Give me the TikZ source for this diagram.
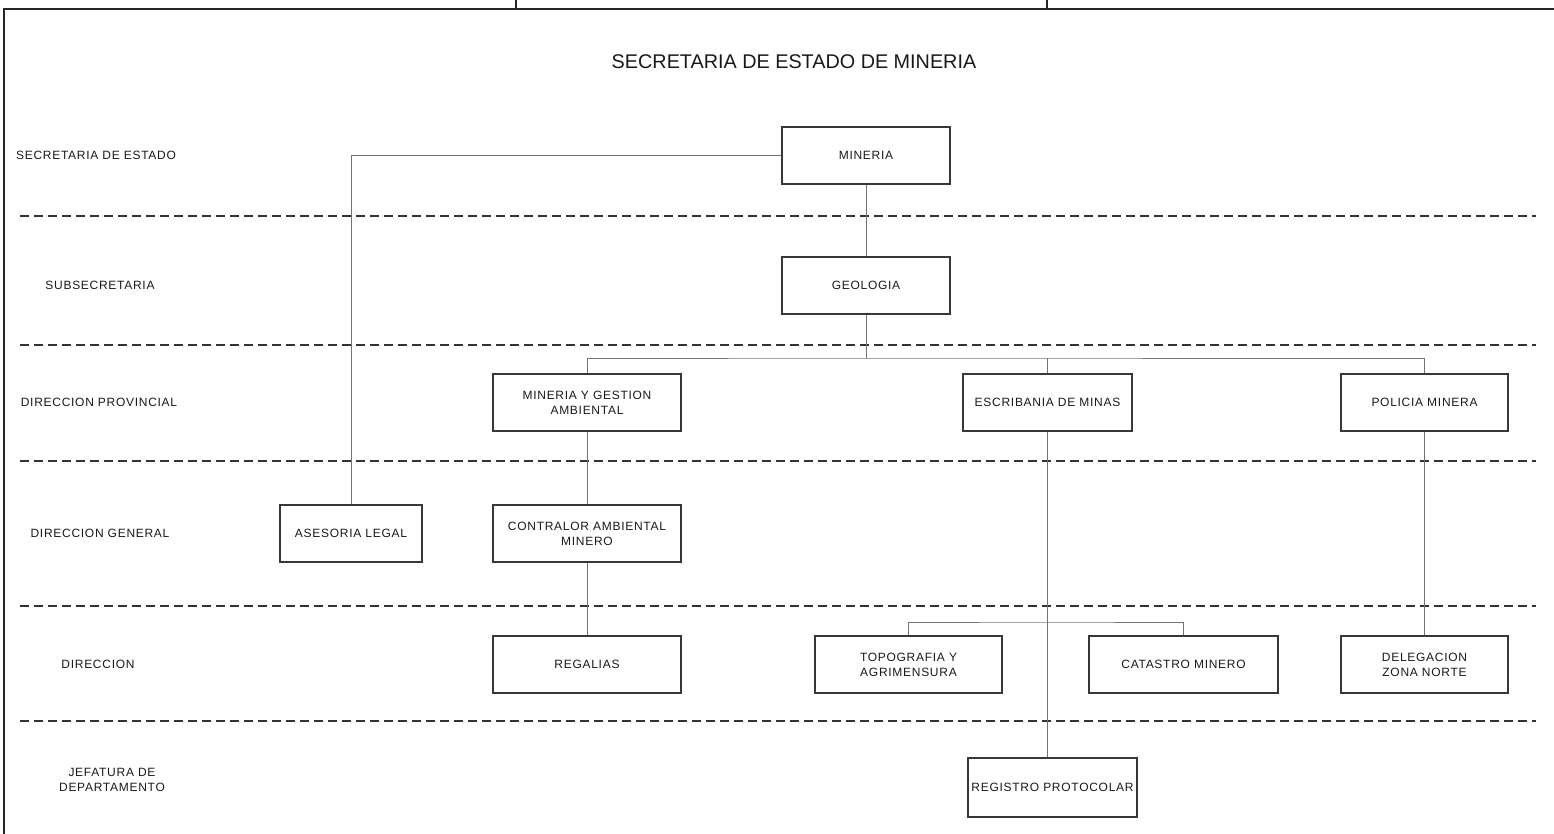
\documentclass[tikz,border=0pt]{standalone}
\usepackage{fontspec}
\setmainfont{Liberation Sans}
\newfontfamily\lblfont[LetterSpace=6]{Liberation Sans}
\begin{document}
\begin{tikzpicture}[x=1pt,y=-1pt,
  box/.style={draw=black!78,line width=1.3pt,minimum height=57pt,inner sep=1pt,align=center,font=\lblfont\fontsize{12}{15}\selectfont,text=black!90},
  rowlbl/.style={align=center,font=\lblfont\fontsize{12}{15}\selectfont,text=black!90},
  conn/.style={draw=black!55,line width=0.9pt},
  sep/.style={draw=black!80,line width=1.8pt,dash pattern=on 9pt off 5pt},
  frame/.style={draw=black!85,line width=2.6pt}]
\useasboundingbox (0,0) rectangle (1554,834);
% frame
\draw[frame] (4,834) -- (4,9) -- (1554,9);
\draw[frame,line width=1.4pt] (516,0) -- (516,9);
\draw[frame,line width=1.4pt] (1047,0) -- (1047,9);
% title
\node[font=\fontsize{19.8}{24}\selectfont,text=black!90] (title) at (794,62) {SECRETARIA DE ESTADO DE MINERIA};
% separators
\foreach \yy in {216,345,461,606,721}{\draw[sep] (20,\yy) -- (1536,\yy);}
% row labels
\node[rowlbl] (l1) at (96,155) {SECRETARIA DE ESTADO};
\node[rowlbl] (l2) at (100,285) {SUBSECRETARIA};
\node[rowlbl] (l3) at (99,402) {DIRECCION PROVINCIAL};
\node[rowlbl] (l4) at (100,533) {DIRECCION GENERAL};
\node[rowlbl] (l5) at (98,664) {DIRECCION};
\node[rowlbl] (l6) at (112,780) {JEFATURA DE\\DEPARTAMENTO};
% boxes
\node[box,minimum width=168pt] (min) at (866,155.5) {MINERIA};
\node[box,minimum width=168pt] (geo) at (866,285.5) {GEOLOGIA};
\node[box,minimum width=188pt] (mga) at (587,402.5) {MINERIA Y GESTION\\AMBIENTAL};
\node[box,minimum width=169pt] (esc) at (1047.5,402.5) {ESCRIBANIA DE MINAS};
\node[box,minimum width=167pt] (pol) at (1424.5,402.5) {POLICIA MINERA};
\node[box,minimum width=142pt] (ase) at (351,533.5) {ASESORIA LEGAL};
\node[box,minimum width=188pt] (con) at (587,533.5) {CONTRALOR AMBIENTAL\\MINERO};
\node[box,minimum width=188pt] (reg) at (587,664.5) {REGALIAS};
\node[box,minimum width=187pt] (top) at (908.5,664.5) {TOPOGRAFIA Y\\AGRIMENSURA};
\node[box,minimum width=189pt] (cat) at (1183.5,664.5) {CATASTRO MINERO};
\node[box,minimum width=167pt] (del) at (1424.5,664.5) {DELEGACION\\ZONA NORTE};
\node[box,minimum width=169pt,minimum height=59pt] (rp) at (1052.5,787.5) {REGISTRO PROTOCOLAR};
% connectors
\coordinate (b1) at (866,358);
\coordinate (b2) at (1047,622);
\draw[conn] (min.west) -| (ase.north);
\draw[conn] (min.south) -- (geo.north);
\draw[conn] (geo.south) -- (b1);
\draw[conn] (mga.north) |- (b1) -| (pol.north);
\draw[conn] (b1 -| esc.north) -- (esc.north);
\draw[conn] (mga.south) -- (con.north);
\draw[conn] (con.south) -- (reg.north);
\draw[conn] (esc.south) -- (esc.south |- rp.north);
\draw[conn] (top.north) |- (b2) -| (cat.north);
\draw[conn] (pol.south) -- (del.north);
\end{tikzpicture}
\end{document}
